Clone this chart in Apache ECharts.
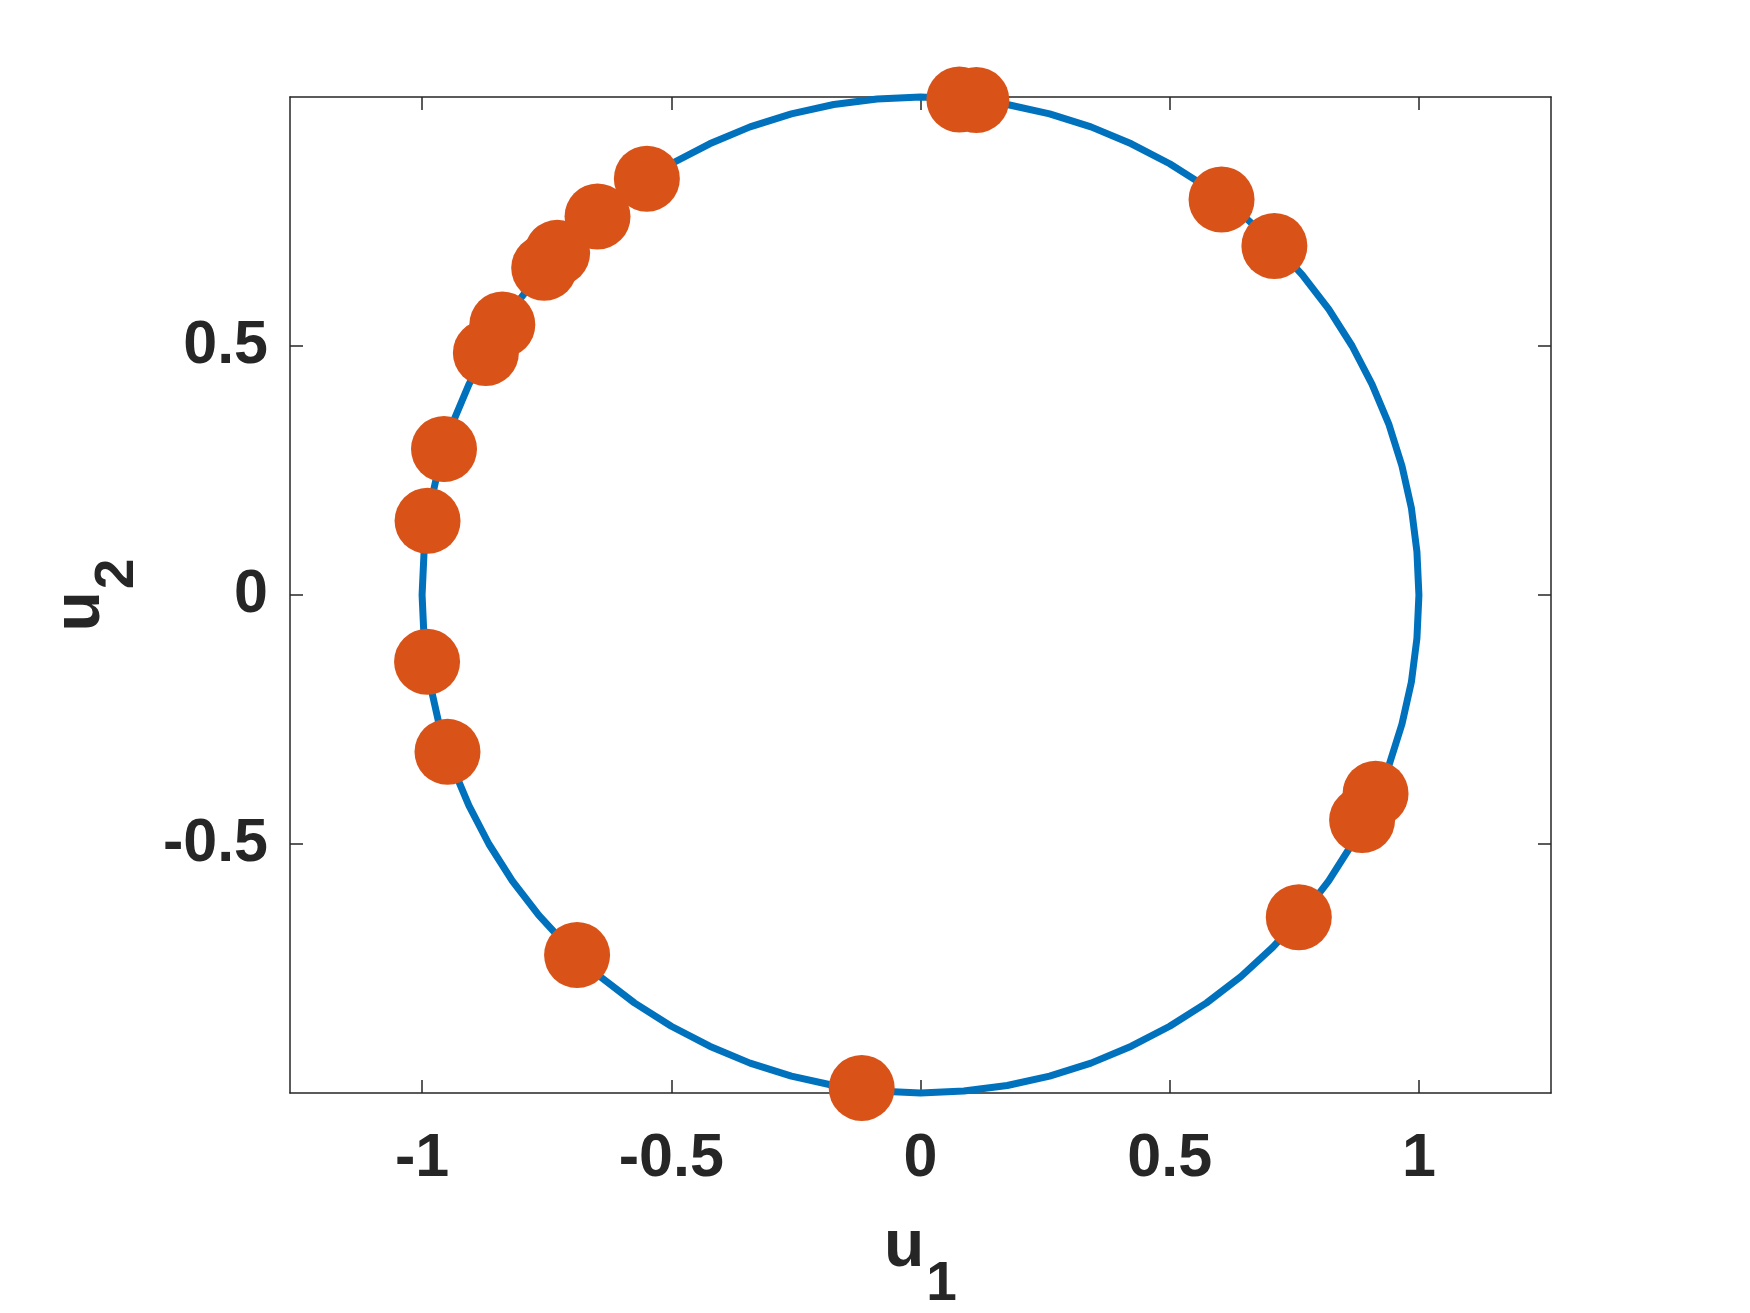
<!DOCTYPE html>
<html>
<head>
<meta charset="utf-8">
<script src="https://cdn.jsdelivr.net/npm/echarts@6/dist/echarts.min.js"></script>
<style>
html,body{margin:0;padding:0;background:#fff;}
#chart{width:1750px;height:1313px;}
</style>
</head>
<body>
<div id="chart"></div>
<script>
// Unit circle curve
var circleU1 = [1.000, 0.996, 0.985, 0.966, 0.940, 0.906, 0.866, 0.819, 0.766, 0.707,
  0.643, 0.574, 0.500, 0.423, 0.342, 0.259, 0.174, 0.087, 0.000,
  -0.087, -0.174, -0.259, -0.342, -0.423, -0.500, -0.574, -0.643, -0.707,
  -0.766, -0.819, -0.866, -0.906, -0.940, -0.966, -0.985, -0.996, -1.000,
  -0.996, -0.985, -0.966, -0.940, -0.906, -0.866, -0.819, -0.766, -0.707,
  -0.643, -0.574, -0.500, -0.423, -0.342, -0.259, -0.174, -0.087, 0.000,
  0.087, 0.174, 0.259, 0.342, 0.423, 0.500, 0.574, 0.643, 0.707,
  0.766, 0.819, 0.866, 0.906, 0.940, 0.966, 0.985, 0.996, 1.000];
var circleU2 = [0.000, 0.087, 0.174, 0.259, 0.342, 0.423, 0.500, 0.574, 0.643, 0.707,
  0.766, 0.819, 0.866, 0.906, 0.940, 0.966, 0.985, 0.996, 1.000,
  0.996, 0.985, 0.966, 0.940, 0.906, 0.866, 0.819, 0.766, 0.707,
  0.643, 0.574, 0.500, 0.423, 0.342, 0.259, 0.174, 0.087, 0.000,
  -0.087, -0.174, -0.259, -0.342, -0.423, -0.500, -0.574, -0.643, -0.707,
  -0.766, -0.819, -0.866, -0.906, -0.940, -0.966, -0.985, -0.996, -1.000,
  -0.996, -0.985, -0.966, -0.940, -0.906, -0.866, -0.819, -0.766, -0.707,
  -0.643, -0.574, -0.500, -0.423, -0.342, -0.259, -0.174, -0.087, 0.000];

// Sample points (orange markers)
var pointsU1 = [0.078, 0.112, -0.549, -0.648, -0.729, -0.755, -0.839, -0.872, -0.956, -0.989,
  -0.990, -0.949, -0.689, -0.118, 0.759, 0.886, 0.913, 0.710, 0.604];
var pointsU2 = [0.995, 0.994, 0.836, 0.760, 0.687, 0.657, 0.543, 0.486, 0.293, 0.149,
  -0.134, -0.315, -0.723, -0.990, -0.647, -0.452, -0.399, 0.701, 0.794];

// Tick values
var xTicks = [-1, -0.5, 0, 0.5, 1];
var yTicks = [-0.5, 0, 0.5];

var circleData = circleU1.map(function (v, i) { return [v, circleU2[i]]; });
var pointData = pointsU1.map(function (v, i) { return [v, pointsU2[i]]; });

var AX = '#262626';
var FONT = '"Liberation Sans", Arial, sans-serif';

function nameRich() {
  return {
    u: { fontSize: 66, fontWeight: 'bold', fontFamily: FONT, color: AX, lineHeight: 66, verticalAlign: 'top' },
    s: { fontSize: 55, fontWeight: 'bold', fontFamily: FONT, color: AX, verticalAlign: 'top', padding: [42, 0, 0, 2] }
  };
}

function makeX(pos, main) {
  return {
    type: 'value', position: pos, min: -1.265, max: 1.265,
    axisLine: { show: true, onZero: false, lineStyle: { color: AX, width: 1.5 } },
    axisTick: { show: true, inside: true, length: 13, customValues: xTicks, lineStyle: { color: AX, width: 1.5 } },
    axisLabel: { show: main, customValues: xTicks, margin: 36, fontSize: 61, fontWeight: 'bold', fontFamily: FONT, color: AX },
    splitLine: { show: false },
    name: main ? '{u|u}{s|1}' : '',
    nameLocation: 'middle', nameGap: 122,
    nameTextStyle: { rich: nameRich() }
  };
}
function makeY(pos, main) {
  return {
    type: 'value', position: pos, min: -1, max: 1,
    axisLine: { show: true, onZero: false, lineStyle: { color: AX, width: 1.5 } },
    axisTick: { show: true, inside: true, length: 13, customValues: yTicks, lineStyle: { color: AX, width: 1.5 } },
    axisLabel: { show: main, customValues: yTicks, margin: 22, fontSize: 61, fontWeight: 'bold', fontFamily: FONT, color: AX },
    splitLine: { show: false },
    name: main ? '{u|u}{s|2}' : '',
    nameLocation: 'middle', nameGap: 145,
    nameTextStyle: { rich: nameRich() }
  };
}

var chart = echarts.init(document.getElementById('chart'), null, { renderer: 'canvas' });
chart.setOption({
  animation: false,
  backgroundColor: '#ffffff',
  grid: { left: 290, right: 199, top: 97, bottom: 220, containLabel: false, outerBoundsMode: 'none' },
  xAxis: [makeX('bottom', true), makeX('top', false)],
  yAxis: [makeY('left', true), makeY('right', false)],
  series: [
    {
      type: 'line', data: circleData, xAxisIndex: 0, yAxisIndex: 0,
      symbol: 'none', smooth: false, clip: false,
      lineStyle: { color: '#0072BD', width: 7, join: 'round', cap: 'round' }, z: 2
    },
    {
      type: 'scatter', data: pointData, xAxisIndex: 0, yAxisIndex: 0,
      symbol: 'circle', symbolSize: 66, clip: false,
      itemStyle: { color: '#D95319', opacity: 1 }, z: 3
    }
  ]
});
</script>
</body>
</html>
